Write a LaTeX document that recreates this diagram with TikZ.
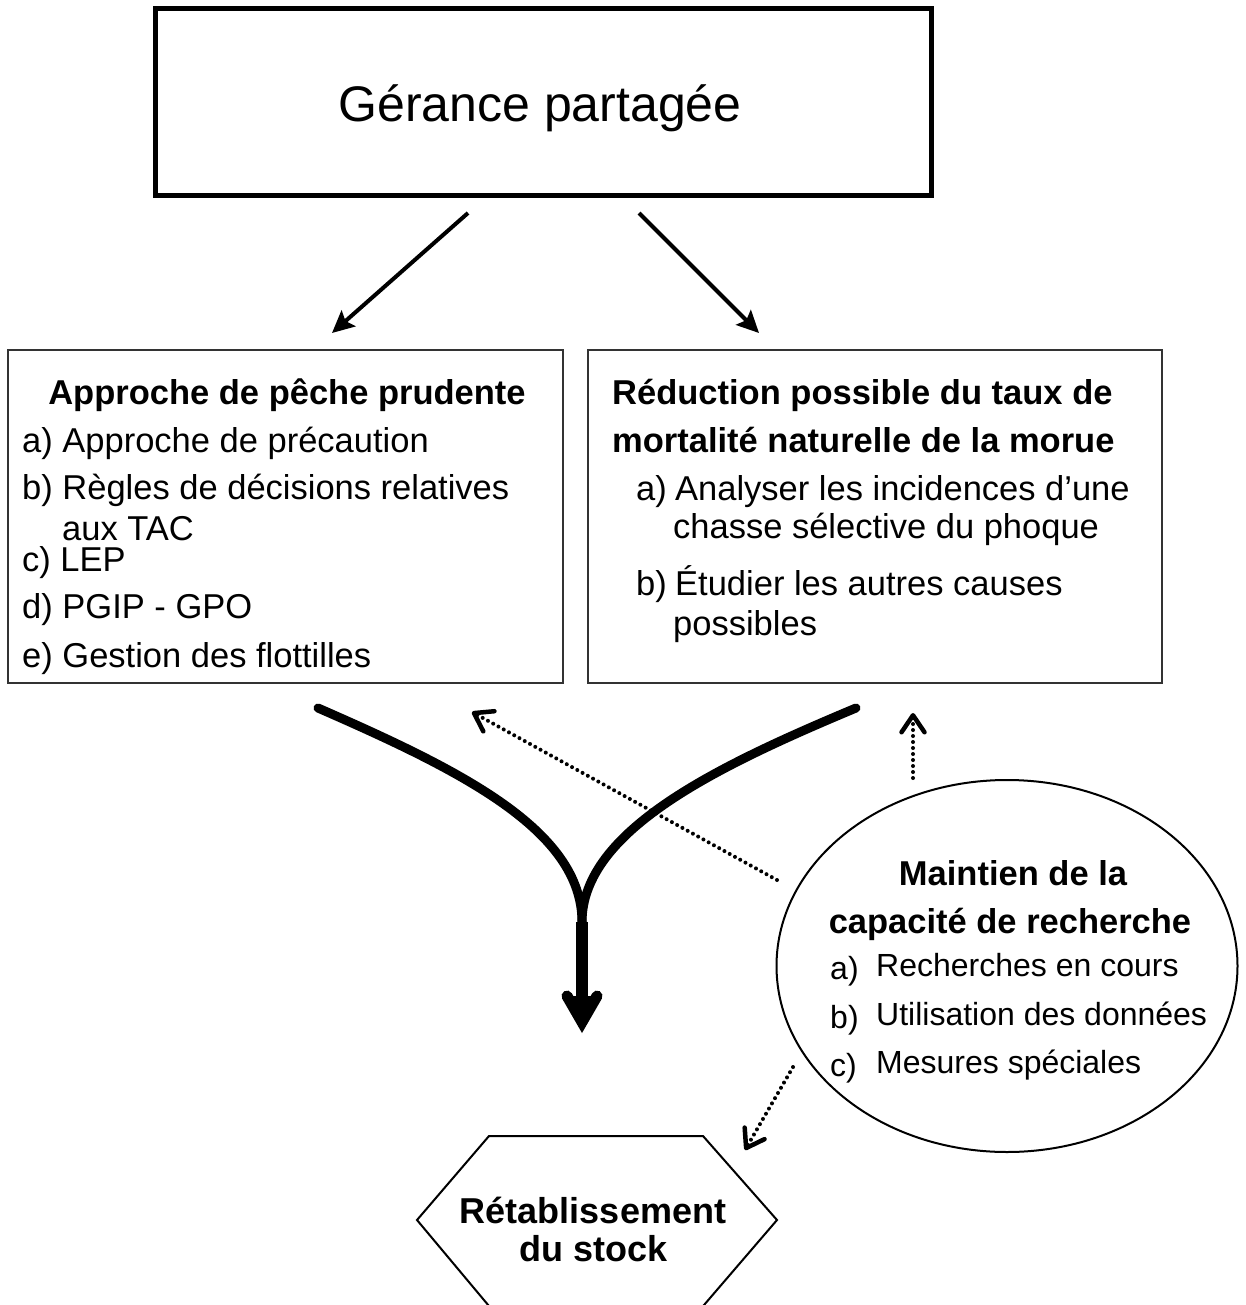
\documentclass[tikz,border=0pt]{standalone}
\usepackage{fontspec}
\setmainfont{Liberation Sans}
\usetikzlibrary{arrows.meta,shapes.geometric}
\begin{document}
\begin{tikzpicture}[x=1pt,y=-1pt,
  txt/.style={inner sep=0pt, anchor=base west, font=\fontsize{34.5}{40}\selectfont},
  btxt/.style={inner sep=0pt, anchor=base west, font=\fontsize{34.5}{40}\selectfont\bfseries},
  etxt/.style={inner sep=0pt, anchor=base west, font=\fontsize{32}{38}\selectfont},
  boxframe/.style={draw=black!80, line width=1.5pt, inner sep=0pt},
  solidarr/.style={line width=4pt, -{Stealth[length=22pt,width=21pt,inset=4pt]}},
  dotarr/.style={line width=4pt, line cap=round, dash pattern=on 0pt off 6pt,
    -{Straight Barb[length=17pt,width=23pt,line width=4.5pt,round]}},
  thick branch/.style={line width=9pt, line cap=round}
]
\useasboundingbox (0,0) rectangle (1245,1305);

% top box
\node[draw, line width=5pt, inner sep=0pt, minimum width=776pt, minimum height=187.5pt] (gerance) at (543,102) {};
\node[inner sep=0pt, anchor=base, font=\fontsize{50}{60}\selectfont] (gtxt) at (540,122) {Gérance partagée};

% left box
\node[boxframe, minimum width=555pt, minimum height=333pt] (pp) at (285.5,516.5) {};
\node[btxt, anchor=base] (pp1) at (287,404) {Approche de pêche prudente};
\node[txt] (pp2) at (22,452) {a) Approche de précaution};
\node[txt] (pp3) at (22,499) {b) Règles de décisions relatives};
\node[txt] (pp4) at (62,540) {aux TAC};
\node[txt] (pp5) at (22,571) {c) LEP};
\node[txt] (pp6) at (22,618) {d) PGIP - GPO};
\node[txt] (pp7) at (22,667) {e) Gestion des flottilles};

% right box
\node[boxframe, minimum width=574pt, minimum height=333pt] (rm) at (875,516.5) {};
\node[btxt] (rm1) at (612,404) {Réduction possible du taux de};
\node[btxt] (rm2) at (612,452) {mortalité naturelle de la morue};
\node[txt] (rma) at (636,500) {a)};
\node[txt] (rm3) at (675,500) {Analyser les incidences d’une};
\node[txt] (rm4) at (673,538) {chasse sélective du phoque};
\node[txt] (rmb) at (636,595) {b)};
\node[txt] (rm5) at (675,595) {Étudier les autres causes};
\node[txt] (rm6) at (673,635) {possibles};

% ellipse
\node[ellipse, draw, line width=2pt, inner sep=0pt, minimum width=461pt, minimum height=372pt] (mc) at (1007,966) {};
\node[btxt, anchor=base] (mc1) at (1013,885) {Maintien de la};
\node[btxt, anchor=base] (mc2) at (1010,933) {capacité de recherche};
\node[etxt] (mca) at (830,979) {a)};
\node[etxt] (mc3) at (876,976) {Recherches en cours};
\node[etxt] (mcb) at (830,1028) {b)};
\node[etxt] (mc4) at (876,1025) {Utilisation des données};
\node[etxt] (mcc) at (830,1076) {c)};
\node[etxt] (mc5) at (876,1073) {Mesures spéciales};

% hexagon
\coordinate (h1) at (489,1136);
\coordinate (h2) at (703,1136);
\coordinate (h3) at (777,1220);
\coordinate (h4) at (698,1312);
\coordinate (h5) at (494,1312);
\coordinate (h6) at (417,1220);
\draw[line width=2pt, line join=miter] (h1) -- (h2) -- (h3) -- (h4) -- (h5) -- (h6) -- cycle;
\node[inner sep=0pt, anchor=base, font=\fontsize{36}{40}\selectfont\bfseries] (st1) at (593,1223) {Rétablissement};
\node[inner sep=0pt, anchor=base, font=\fontsize{36}{40}\selectfont\bfseries] (st2) at (594,1261) {du stock};

% arrows from top box
\coordinate (ga) at (468,213);
\coordinate (gb) at (639,213);
\coordinate (pa) at (332,333);
\coordinate (rb) at (759,333);
\draw[solidarr] (ga) -- (pa);
\draw[solidarr] (gb) -- (rb);

% thick merging arrow
\coordinate (ls) at (318,708);
\coordinate (rs) at (856,708);
\coordinate (merge) at (582,922);
\coordinate (shaftend) at (582,1012);
\draw[thick branch] (ls) .. controls (460,770) and (582,830) .. (merge);
\draw[thick branch] (rs) .. controls (720,765) and (582,830) .. (merge);
\draw[line width=12pt] (merge) -- (shaftend);
\fill (567,996) -- (582,1022) -- (597,996) -- cycle;
\draw[line width=11pt, line cap=round, line join=miter] (567,996) -- (582,1022) -- (597,996);

% dotted arrows
\coordinate (d1s) at (777,880);
\coordinate (d1e) at (472,712);
\coordinate (d2s) at (913,778);
\coordinate (d2e) at (913,713);
\coordinate (d3s) at (793,1067);
\coordinate (d3e) at (745,1150);
\draw[dotarr] (d1s) -- (d1e);
\draw[dotarr] (d2s) -- (d2e);
\draw[dotarr] (d3s) -- (d3e);
\end{tikzpicture}
\end{document}
